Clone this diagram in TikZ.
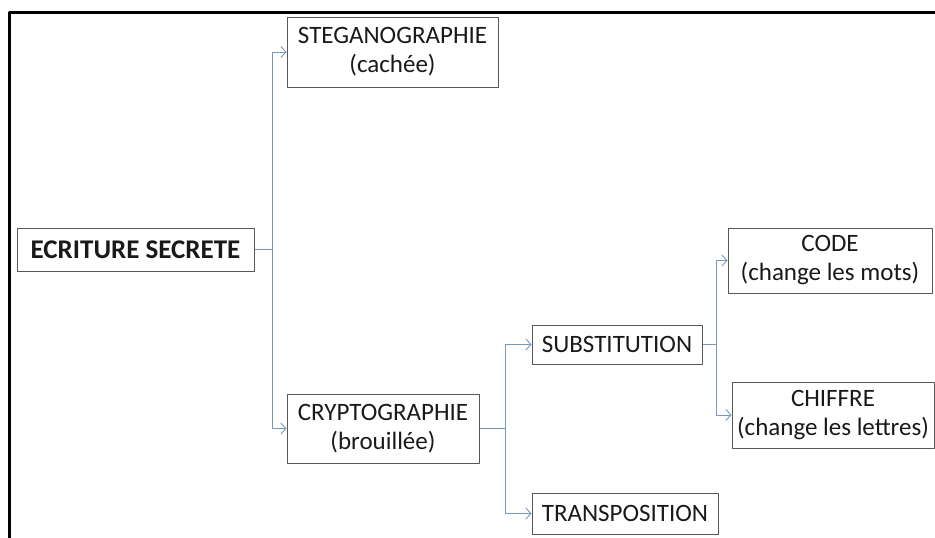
\documentclass[tikz,border=0pt]{standalone}
\usepackage{fontspec}
\setmainfont{Carlito}
\usetikzlibrary{arrows.meta}
\definecolor{lienbleu}{RGB}{120,152,196}
\definecolor{cadregris}{RGB}{88,88,88}
\definecolor{texte}{RGB}{25,25,25}
\tikzset{
  boite/.style={draw=cadregris, line width=1pt, align=center, inner sep=0pt, text=texte},
  lien/.style={draw=lienbleu, line width=1pt, ->}
}
\begin{document}
\begin{tikzpicture}[x=1pt, y=-1pt, font=\fontsize{25}{29}\selectfont, line join=round,
  >={Straight Barb[length=5pt,width=11pt,line width=0.9pt]}]
  \useasboundingbox (0,0) rectangle (935,538);
  % cadre
  \draw[line width=3pt] (935,12) -| (9,538);
  % boites
  \node[boite, minimum width=237pt, minimum height=43pt, font=\fontsize{27}{31}\selectfont\bfseries] (ecriture) at (135.5,249.5) {ECRITURE SECRETE};
  \node[boite, minimum width=211pt, minimum height=70pt] (stegano) at (392.5,52) {STEGANOGRAPHIE\\(cachée)};
  \node[boite, minimum width=192pt, minimum height=69pt] (crypto) at (383,428.5) {CRYPTOGRAPHIE\\(brouillée)};
  \node[boite, minimum width=170pt, minimum height=39pt] (subst) at (617,344.5) {SUBSTITUTION};
  \node[boite, minimum width=186pt, minimum height=41pt] (transpo) at (625,513.5) {TRANSPOSITION};
  \node[boite, minimum width=204pt, minimum height=65pt] (code) at (830,260.5) {CODE\\(change les mots)};
  \node[boite, minimum width=202pt, minimum height=66pt] (chiffre) at (833,415) {CHIFFRE\\(change les lettres)};
  % liens
  \draw[lien] (ecriture.east) -- ++(18,0) |- (stegano.west);
  \draw[lien] (ecriture.east) -- ++(18,0) |- (crypto.west);
  \draw[lien] (crypto.east) -- ++(26,0) |- (subst.west);
  \draw[lien] (crypto.east) -- ++(26,0) |- (transpo.west);
  \draw[lien] (subst.east) -- ++(14,0) |- (code.west);
  \draw[lien] (subst.east) -- ++(14,0) |- (chiffre.west);
\end{tikzpicture}
\end{document}
